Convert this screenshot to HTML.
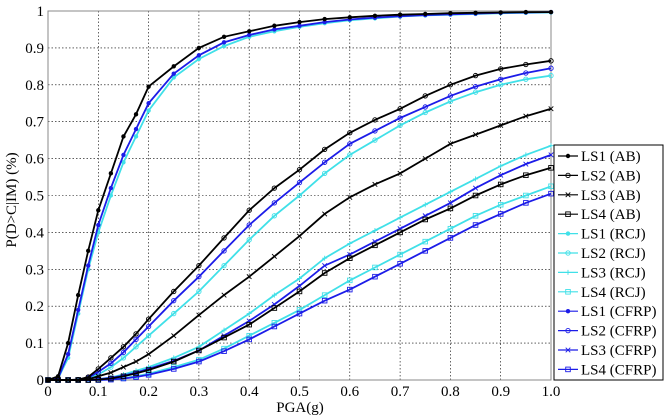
<!DOCTYPE html>
<html><head><meta charset="utf-8"><style>
body{margin:0;background:#fff;}
svg{display:block;font-family:"Liberation Serif",serif;}
</style></head><body>
<svg id="chart" width="667" height="416"></svg>
<script>
const xs = [0,0.02,0.04,0.06,0.08,0.1,0.125,0.15,0.175,0.2,0.25,0.3,0.35,0.4,0.45,0.5,0.55,0.6,0.65,0.7,0.75,0.8,0.85,0.9,0.95,1.0];
const ls1ab = [0,0.01,0.10,0.23,0.35,0.46,0.56,0.66,0.72,0.795,0.85,0.90,0.93,0.945,0.96,0.97,0.978,0.983,0.987,0.99,0.992,0.994,0.995,0.996,0.997,0.997];
const ls2ab = [0,0,0,0.001,0.008,0.03,0.06,0.09,0.125,0.165,0.24,0.31,0.385,0.46,0.52,0.57,0.625,0.67,0.705,0.735,0.77,0.80,0.825,0.843,0.855,0.865];
const ls3ab = [0,0,0,0,0.002,0.01,0.02,0.035,0.05,0.07,0.12,0.176,0.23,0.28,0.335,0.39,0.45,0.495,0.53,0.56,0.60,0.64,0.665,0.69,0.715,0.735];
const ls4ab = [0,0,0,0,0,0.001,0.004,0.01,0.018,0.027,0.05,0.08,0.115,0.15,0.195,0.24,0.29,0.33,0.365,0.40,0.435,0.465,0.50,0.53,0.555,0.575];
const ls1rcj = [0,0.004,0.06,0.18,0.30,0.40,0.50,0.59,0.66,0.73,0.82,0.87,0.905,0.93,0.945,0.957,0.967,0.975,0.98,0.985,0.988,0.99,0.992,0.994,0.995,0.996];
const ls2rcj = [0,0,0,0,0.004,0.015,0.035,0.06,0.09,0.12,0.18,0.24,0.31,0.38,0.445,0.50,0.56,0.61,0.65,0.69,0.725,0.755,0.78,0.80,0.815,0.825];
const ls3rcj = [0,0,0,0,0,0.002,0.007,0.015,0.025,0.035,0.06,0.09,0.135,0.18,0.23,0.275,0.33,0.37,0.405,0.44,0.475,0.51,0.545,0.58,0.61,0.635];
const ls4rcj = [0,0,0,0,0,0,0.002,0.005,0.01,0.017,0.035,0.055,0.085,0.12,0.155,0.19,0.23,0.27,0.305,0.34,0.375,0.41,0.445,0.475,0.50,0.525];
const ls1cfrp = [0,0.005,0.07,0.19,0.31,0.42,0.52,0.61,0.68,0.75,0.83,0.88,0.915,0.935,0.95,0.96,0.97,0.977,0.982,0.986,0.989,0.991,0.993,0.995,0.996,0.997];
const ls2cfrp = [0,0,0,0.001,0.006,0.022,0.045,0.075,0.11,0.145,0.215,0.28,0.35,0.42,0.48,0.535,0.59,0.64,0.675,0.71,0.74,0.77,0.795,0.815,0.832,0.845];
const ls3cfrp = [0,0,0,0,0,0.002,0.006,0.012,0.02,0.03,0.052,0.08,0.12,0.16,0.205,0.255,0.31,0.34,0.375,0.41,0.445,0.48,0.52,0.555,0.585,0.61];
const ls4cfrp = [0,0,0,0,0,0,0.001,0.004,0.008,0.014,0.03,0.05,0.078,0.11,0.145,0.18,0.215,0.245,0.28,0.315,0.35,0.385,0.42,0.45,0.48,0.505];
const xTicks = ["0","0.1","0.2","0.3","0.4","0.5","0.6","0.7","0.8","0.9","1.0"];
const yTicks = ["0","0.1","0.2","0.3","0.4","0.5","0.6","0.7","0.8","0.9","1"];
const seriesNames = ["LS1 (AB)","LS2 (AB)","LS3 (AB)","LS4 (AB)","LS1 (RCJ)","LS2 (RCJ)","LS3 (RCJ)","LS4 (RCJ)","LS1 (CFRP)","LS2 (CFRP)","LS3 (CFRP)","LS4 (CFRP)"];
const seriesData = [ls1ab,ls2ab,ls3ab,ls4ab,ls1rcj,ls2rcj,ls3rcj,ls4rcj,ls1cfrp,ls2cfrp,ls3cfrp,ls4cfrp];

const NS="http://www.w3.org/2000/svg";
const svg=document.getElementById('chart');
const L=48,R=551,T=11,B=380;
const X=v=>L+v*(R-L);
const Y=v=>B-v*(B-T);
function mk(tag,attrs,parent){const e=document.createElementNS(NS,tag);for(const k in attrs)e.setAttribute(k,attrs[k]);(parent||svg).appendChild(e);return e;}
const colors=["#000","#000","#000","#000","#40e0e8","#40e0e8","#40e0e8","#40e0e8","#1c1ce8","#1c1ce8","#1c1ce8","#1c1ce8"];
const markers=["dot","circle","x","square","dot","circle","dash","square","dot","circle","x","square"];

const grid=mk('g',{});


xTicks.forEach((t,i)=>{const v=i/10;
  if(i>0&&i<10){const l=mk('line',{x1:X(v),x2:X(v),y1:T,y2:B,stroke:'#000','stroke-width':0.6,'stroke-dasharray':'1.5,2'},grid);
  
  }
  const tx=mk('text',{x:X(v),y:396,'font-size':15,'text-anchor':'middle'});
  
  
  tx.textContent=t;});
yTicks.forEach((t,i)=>{const v=i/10;
  if(i>0&&i<10){const l=mk('line',{x1:L,x2:R,y1:Y(v),y2:Y(v),stroke:'#000','stroke-width':0.6,'stroke-dasharray':'1.5,2'},grid);
  
  }
  const tx=mk('text',{x:44,y:Y(v)+5,'font-size':15,'text-anchor':'end'});
  
  
  tx.textContent=t;});
const frame=mk('rect',{x:L,y:T,width:R-L,height:B-T,fill:'none',stroke:'#888','stroke-width':1});



function marker(g,type,x,y,c){
  if(type==='dot')mk('circle',{cx:x,cy:y,r:2.2,fill:c},g);
  else if(type==='circle')mk('circle',{cx:x,cy:y,r:2.2,fill:'none',stroke:c,'stroke-width':0.9},g);
  else if(type==='square')mk('rect',{x:x-2.3,y:y-2.3,width:4.6,height:4.6,fill:'none',stroke:c,'stroke-width':0.9},g);
  else if(type==='x'){mk('path',{d:`M${x-2.3},${y-2.3}L${x+2.3},${y+2.3}M${x-2.3},${y+2.3}L${x+2.3},${y-2.3}`,stroke:c,'stroke-width':0.9},g);}
  else if(type==='dash'){mk('path',{d:`M${x-2.5},${y}L${x+2.5},${y}M${x},${y-2.5}L${x},${y+2.5}`,stroke:c,'stroke-width':0.9},g);}
}
const order=[4,5,6,7,8,9,10,11,0,1,2,3];
order.forEach(i=>{
  const g=mk('g',{});
  
  
  const d=seriesData[i].map((v,j)=>(j?'L':'M')+X(xs[j]).toFixed(1)+','+Y(v).toFixed(1)).join('');
  mk('path',{d:d,fill:'none',stroke:colors[i],'stroke-width':1.8},g);
  seriesData[i].forEach((v,j)=>marker(g,markers[i],X(xs[j]),Y(v),colors[i]));
});

const xl=mk('text',{x:300,y:412,'font-size':15,'text-anchor':'middle'});


xl.textContent='PGA(g)';
const yl=mk('text',{x:0,y:0,'font-size':15,'text-anchor':'middle',transform:'translate(16,200) rotate(-90)'});


yl.textContent='P(D>C|IM) (%)';

const lg=mk('g',{});


mk('rect',{x:554,y:145,width:109,height:235,fill:'#fff',stroke:'#000','stroke-width':1},lg);
seriesNames.forEach((n,i)=>{
  const cy=156+i*19.4;
  const e=mk('g',{},lg);
  
  
  mk('line',{x1:558,x2:578,y1:cy,y2:cy,stroke:colors[i],'stroke-width':1.2},e);
  marker(e,markers[i],568,cy,colors[i]);
  const t=mk('text',{x:581,y:cy+5,'font-size':15},e);
  t.textContent=n;
});
</script>
</body></html>
